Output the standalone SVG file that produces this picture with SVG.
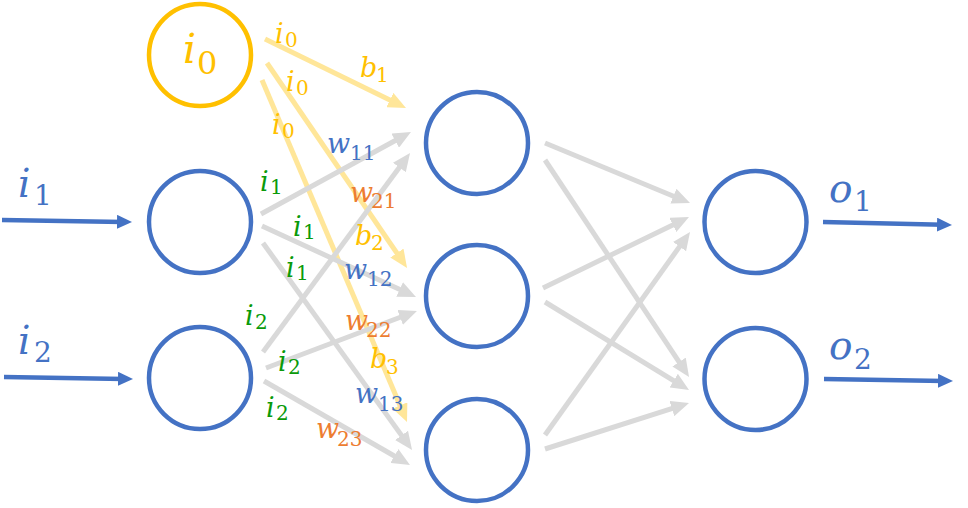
<svg xmlns="http://www.w3.org/2000/svg" width="968" height="508" viewBox="0 0 968 508">
<style>
.node{fill:none;stroke:#4472C4;stroke-width:4.5}
.bias{fill:none;stroke:#FFC000;stroke-width:4.5}
.g{stroke:#D9D9D9;stroke-width:5;fill:none;marker-end:url(#ag)}
.y{stroke:#FFE699;stroke-width:5;fill:none;marker-end:url(#ay)}
.b{stroke:#4472C4;stroke-width:4.5;fill:none;marker-end:url(#ab)}
text{font-family:"DejaVu Serif","Liberation Serif",serif}
.m{font-style:italic}
.s{font-size:27px}
.ss{font-size:20px}
.L{font-size:39px}
.LS{font-size:28px}
.cb{fill:#4472C4}.cy{fill:#FFC000}.co{fill:#ED7D31}.cg{fill:#0A9A0A}
</style>
<defs>
<marker id="ag" markerUnits="userSpaceOnUse" markerWidth="18" markerHeight="16" refX="8" refY="8" orient="auto"><path d="M0,0 L18,8 L0,16 z" fill="#D9D9D9"/></marker>
<marker id="ay" markerUnits="userSpaceOnUse" markerWidth="18" markerHeight="16" refX="8" refY="8" orient="auto"><path d="M0,0 L18,8 L0,16 z" fill="#FFE699"/></marker>
<marker id="ab" markerUnits="userSpaceOnUse" markerWidth="15" markerHeight="14" refX="6" refY="7" orient="auto"><path d="M0,0 L15,7 L0,14 z" fill="#4472C4"/></marker>
</defs>
<g id="connectors">
<line class="y" x1="265" y1="39" x2="397.0" y2="103.6"/>
<line class="y" x1="267" y1="63" x2="401.4" y2="259.7"/>
<line class="y" x1="262" y1="80" x2="403.1" y2="412.8"/>
<line class="g" x1="261" y1="214" x2="402.2" y2="136.8"/>
<line class="g" x1="262" y1="226" x2="406.9" y2="292.8"/>
<line class="g" x1="263" y1="243" x2="406.2" y2="441.9"/>
<line class="g" x1="263" y1="352" x2="404.1" y2="161.0"/>
<line class="g" x1="266" y1="368" x2="407.6" y2="314.5"/>
<line class="g" x1="264" y1="381" x2="401.3" y2="460.0"/>
<line class="g" x1="545" y1="143" x2="680.8" y2="199.2"/>
<line class="g" x1="545" y1="160" x2="683.5" y2="368.7"/>
<line class="g" x1="543" y1="288" x2="680.0" y2="221.4"/>
<line class="g" x1="545" y1="302" x2="680.5" y2="384.8"/>
<line class="g" x1="545" y1="435" x2="684.2" y2="240.1"/>
<line class="g" x1="545" y1="449" x2="679.5" y2="406.1"/>
<line class="b" x1="2" y1="220" x2="123" y2="221.9"/>
<line class="b" x1="4" y1="377" x2="124" y2="378.9"/>
<line class="b" x1="823" y1="222" x2="943" y2="224.8"/>
<line class="b" x1="824" y1="379" x2="944" y2="380.9"/>
</g>
<g id="node-i0"><circle class="bias" cx="200" cy="55" r="51"/>
<text class="cy"><tspan class="m" x="183" y="63" style="font-size:41px">i</tspan><tspan x="197" y="74" style="font-size:32px">0</tspan></text></g>
<g id="node-i1"><circle class="node" cx="200" cy="222" r="51"/></g>
<g id="node-i2"><circle class="node" cx="200" cy="378" r="51"/></g>
<g id="node-h1"><circle class="node" cx="477" cy="143" r="51"/></g>
<g id="node-h2"><circle class="node" cx="477" cy="296" r="51"/></g>
<g id="node-h3"><circle class="node" cx="477" cy="450" r="51"/></g>
<g id="node-o1"><circle class="node" cx="755.5" cy="222" r="51"/></g>
<g id="node-o2"><circle class="node" cx="755.5" cy="379" r="51"/></g>
<g id="labels">
<text class="cb"><tspan class="m L" x="18" y="197">i</tspan><tspan class="LS" x="34" y="205">1</tspan></text>
<text class="cb"><tspan class="m L" x="18" y="354">i</tspan><tspan class="LS" x="34" y="362">2</tspan></text>
<text class="cb"><tspan class="m L" x="829" y="202">o</tspan><tspan class="LS" x="854" y="211">1</tspan></text>
<text class="cb"><tspan class="m L" x="829" y="359">o</tspan><tspan class="LS" x="854" y="369">2</tspan></text>

<text class="cy"><tspan class="m s" x="275" y="43">i</tspan><tspan class="ss" x="285" y="47">0</tspan></text>
<text class="cy"><tspan class="m s" x="286" y="91">i</tspan><tspan class="ss" x="296" y="95">0</tspan></text>
<text class="cy"><tspan class="m s" x="272" y="134">i</tspan><tspan class="ss" x="282" y="138">0</tspan></text>
<text class="cy"><tspan class="m s" x="360" y="77">b</tspan><tspan class="ss" x="376" y="82">1</tspan></text>
<text class="cy"><tspan class="m s" x="355" y="245">b</tspan><tspan class="ss" x="371" y="250">2</tspan></text>
<text class="cy"><tspan class="m s" x="370" y="368">b</tspan><tspan class="ss" x="386" y="374">3</tspan></text>

<text class="cb"><tspan class="m s" x="327" y="153">w</tspan><tspan class="ss" x="350" y="160">11</tspan></text>
<text class="cb"><tspan class="m s" x="344" y="279">w</tspan><tspan class="ss" x="367" y="286">12</tspan></text>
<text class="cb"><tspan class="m s" x="355" y="403">w</tspan><tspan class="ss" x="378" y="411">13</tspan></text>

<text class="co"><tspan class="m s" x="350" y="202">w</tspan><tspan class="ss" x="371" y="208">21</tspan></text>
<text class="co"><tspan class="m s" x="345" y="330">w</tspan><tspan class="ss" x="366" y="337">22</tspan></text>
<text class="co"><tspan class="m s" x="316" y="438">w</tspan><tspan class="ss" x="337" y="446">23</tspan></text>

<text class="cg"><tspan class="m s" x="260" y="191">i</tspan><tspan class="ss" x="270" y="194">1</tspan></text>
<text class="cg"><tspan class="m s" x="293" y="236">i</tspan><tspan class="ss" x="303" y="239">1</tspan></text>
<text class="cg"><tspan class="m s" x="286" y="277">i</tspan><tspan class="ss" x="296" y="280">1</tspan></text>
<text class="cg"><tspan class="m s" x="245" y="325">i</tspan><tspan class="ss" x="255" y="329">2</tspan></text>
<text class="cg"><tspan class="m s" x="278" y="371">i</tspan><tspan class="ss" x="288" y="374">2</tspan></text>
<text class="cg"><tspan class="m s" x="266" y="417">i</tspan><tspan class="ss" x="276" y="420">2</tspan></text>
</g>
</svg>
